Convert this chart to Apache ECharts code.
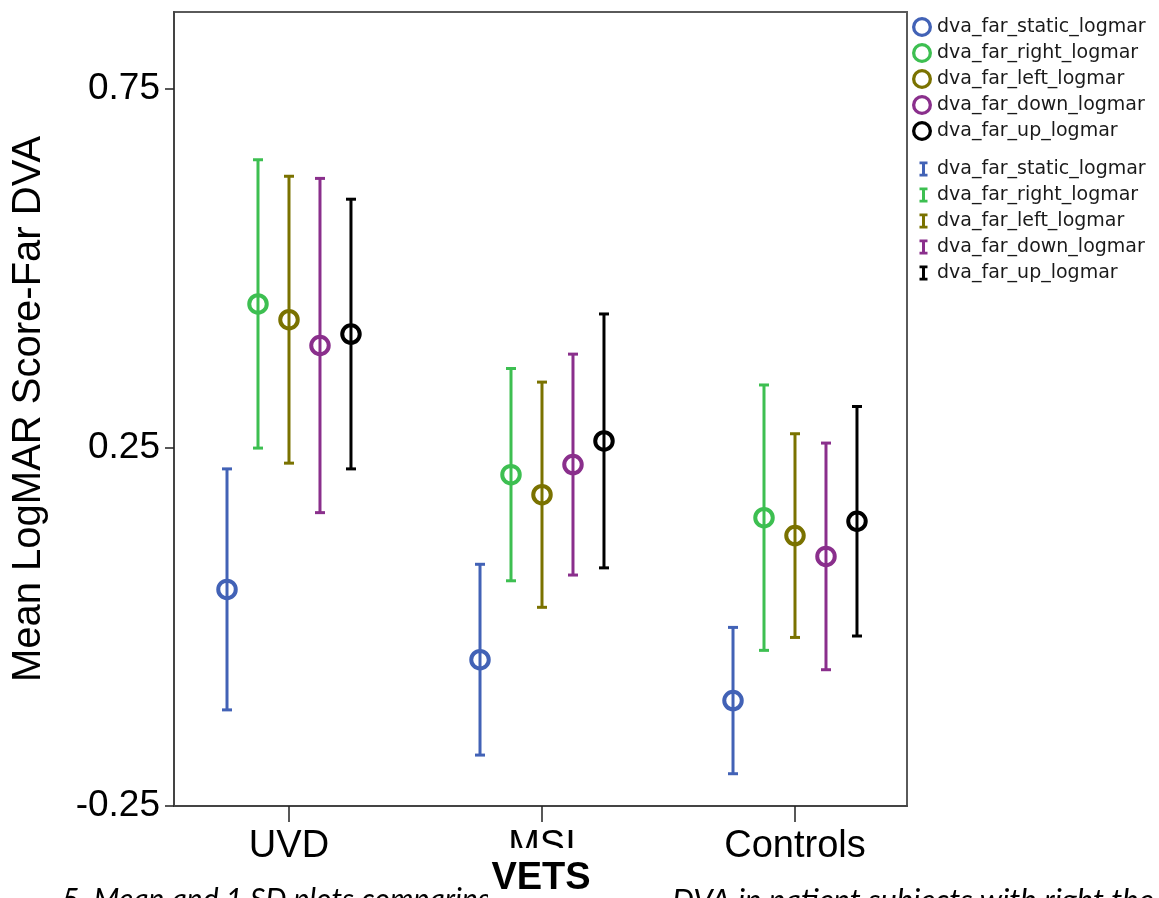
<!DOCTYPE html>
<html>
<head>
<meta charset="utf-8">
<script src="https://cdn.jsdelivr.net/npm/echarts@6/dist/echarts.min.js"></script>
<style>
  html, body { margin: 0; padding: 0; background: #fff; }
  #chart { width: 1159px; height: 898px; }
</style>
</head>
<body>
<div id="chart"></div>
<script>
// groups on the x axis
const groups = ['UVD', 'MSI', 'Controls']
const measures = ['dva_far_static_logmar', 'dva_far_right_logmar', 'dva_far_left_logmar', 'dva_far_down_logmar', 'dva_far_up_logmar']
const colors = ['#4262b6', '#3dbf51', '#7a7200', '#8a2f8c', '#000000']
const yTicks = [-0.25, 0.25, 0.75]

// means and 1 SD per group (UVD, MSI, Controls)
const staticMean = [0.052, -0.046, -0.103]
const staticSD = [0.168, 0.133, 0.102]
const rightMean = [0.450, 0.212, 0.152]
const rightSD = [0.201, 0.148, 0.185]
const leftMean = [0.428, 0.184, 0.127]
const leftSD = [0.200, 0.157, 0.142]
const downMean = [0.392, 0.226, 0.098]
const downSD = [0.233, 0.154, 0.158]
const upMean = [0.408, 0.259, 0.147]
const upSD = [0.188, 0.177, 0.160]

const means = [staticMean, rightMean, leftMean, downMean, upMean]
const sds = [staticSD, rightSD, leftSD, downSD, upSD]
const offsets = [-0.245, -0.1225, 0, 0.1225, 0.245]

const ringIcon = 'path://M0,10 A10,10 0 1,0 20,10 A10,10 0 1,0 0,10 Z M3.3,10 A6.7,6.7 0 1,1 16.7,10 A6.7,6.7 0 1,1 3.3,10 Z'
// tiny corner squares keep the icon box at 20x20 so the I-bar is not stretched
const barIcon = 'path://M0,0 H0.1 V0.1 H0 Z M19.9,19.9 H20 V20 H19.9 Z M7.5,2.5 H15.5 V5.2 H13 V14.8 H15.5 V17.5 H7.5 V14.8 H10 V5.2 H7.5 Z'

function makeErrorBar(color) {
  return function(params, api) {
    let x = api.value(0)
    let top = api.coord([x, api.value(2)])
    let bot = api.coord([x, api.value(1)])
    let w = 5
    let style = { stroke: color, lineWidth: 3, fill: null }
    return {
      type: 'group',
      children: [
        { type: 'line', shape: { x1: top[0], y1: top[1], x2: bot[0], y2: bot[1] }, style: style },
        { type: 'line', shape: { x1: top[0] - w, y1: top[1], x2: top[0] + w, y2: top[1] }, style: style },
        { type: 'line', shape: { x1: bot[0] - w, y1: bot[1], x2: bot[0] + w, y2: bot[1] }, style: style }
      ]
    }
  }
}

let series = []
measures.forEach(function(name, i) {
  let barData = groups.map(function(g, j) {
    return [j + 1 + offsets[i], means[i][j] - sds[i][j], means[i][j] + sds[i][j]]
  })
  let pointData = groups.map(function(g, j) {
    return [j + 1 + offsets[i], means[i][j]]
  })
  series.push({
    name: name + '#bar',
    type: 'custom',
    renderItem: makeErrorBar(colors[i]),
    encode: { x: 0, y: [1, 2] },
    itemStyle: { color: colors[i] },
    data: barData,
    z: 2
  })
  series.push({
    name: name,
    type: 'scatter',
    symbol: 'circle',
    symbolSize: 17.5,
    itemStyle: { color: 'rgba(255,255,255,0)', borderColor: colors[i], borderWidth: 4, opacity: 1 },
    data: pointData,
    z: 3
  })
})

let legendText = { fontFamily: 'DejaVu Sans', fontSize: 19, color: '#1a1a1a' }

let option = {
  animation: false,
  backgroundColor: '#fff',
  grid: {
    left: 174,
    right: 252,
    top: 12,
    bottom: 92,
    show: true,
    borderColor: '#5a5a5a',
    borderWidth: 2
  },
  legend: [
    {
      orient: 'vertical',
      left: 912,
      top: 17,
      padding: 0,
      itemWidth: 20,
      itemHeight: 20,
      itemGap: 6,
      textStyle: legendText,
      data: measures.map(function(m, i) {
        return { name: m, icon: ringIcon, itemStyle: { color: colors[i], borderWidth: 0 } }
      })
    },
    {
      orient: 'vertical',
      left: 912,
      top: 159,
      padding: 0,
      itemWidth: 20,
      itemHeight: 20,
      itemGap: 6,
      formatter: function(name) { return name.replace('#bar', '') },
      textStyle: legendText,
      data: measures.map(function(m, i) {
        return { name: m + '#bar', icon: barIcon, itemStyle: { color: colors[i], borderWidth: 0 } }
      })
    }
  ],
  xAxis: {
    type: 'value',
    min: 0.5455,
    max: 3.4427,
    axisLine: { onZero: false, lineStyle: { color: '#444', width: 2 } },
    axisTick: {
      customValues: [1, 2, 3],
      length: 16,
      lineStyle: { color: '#222', width: 1.5 }
    },
    axisLabel: {
      customValues: [1, 2, 3],
      formatter: function(v) { return groups[Math.round(v) - 1] },
      fontFamily: 'Liberation Sans',
      fontSize: 38,
      color: '#000',
      margin: 22
    },
    splitLine: { show: false }
  },
  yAxis: {
    type: 'value',
    min: -0.25,
    max: 0.857,
    name: 'Mean LogMAR Score-Far DVA',
    nameLocation: 'middle',
    nameGap: 125,
    nameTextStyle: { fontFamily: 'Liberation Sans', fontSize: 40, color: '#000' },
    axisLine: { show: true, lineStyle: { color: '#444', width: 2 } },
    axisTick: {
      show: true,
      customValues: yTicks,
      length: 9,
      lineStyle: { color: '#222', width: 1.5 }
    },
    axisLabel: {
      customValues: yTicks,
      formatter: function(v) { return v.toFixed(2) },
      fontFamily: 'Liberation Sans',
      fontSize: 37,
      color: '#000',
      margin: 14
    },
    splitLine: { show: false }
  },
  graphic: [
    {
      type: 'text', left: 62, top: 885, z: 50,
      style: { text: '5. Mean and 1 SD plots comparing', font: 'italic 30px Lato', fill: '#000' }
    },
    {
      type: 'text', left: 672, top: 885, z: 50,
      style: { text: 'DVA in patient subjects with right the', font: 'italic 31px Lato', fill: '#000' }
    },
    {
      type: 'rect', shape: { x: 488, y: 848, width: 182, height: 50 }, z: 100,
      style: { fill: '#fff' }
    },
    {
      type: 'text', x: 541, y: 879, z: 101,
      style: { text: 'VETS', font: 'bold 38px Liberation Sans', fill: '#000', align: 'center', verticalAlign: 'middle' }
    }
  ],
  series: series
}

let chart = echarts.init(document.getElementById('chart'))
chart.setOption(option)
</script>
</body>
</html>
